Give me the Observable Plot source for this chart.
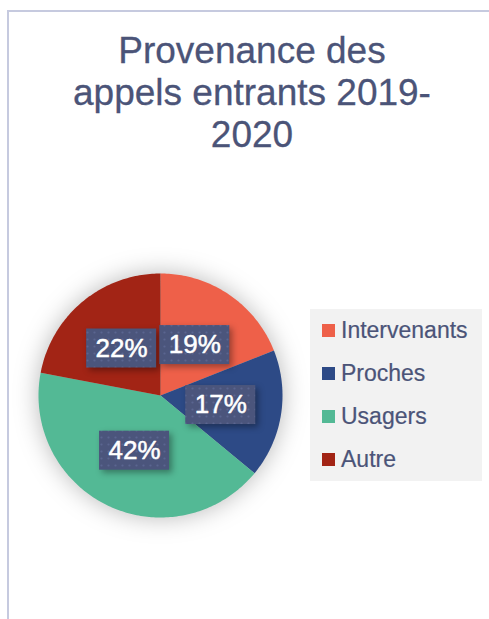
<!DOCTYPE html>
<html>
<head>
<meta charset="utf-8">
<script src="https://cdn.jsdelivr.net/npm/d3@7"></script>
<script src="https://cdn.jsdelivr.net/npm/@observablehq/plot@0.6"></script>
<style>
  html, body { margin: 0; padding: 0; background: #fff; }
  #page { position: relative; width: 489px; height: 619px; overflow: hidden; font-family: "Liberation Sans", Arial, sans-serif; }
  #border-top { position: absolute; left: 8px; top: 10px; width: 481px; height: 2px; background: #C6CADF; }
  #border-left { position: absolute; left: 7px; top: 10px; width: 2px; height: 609px; background: #C6CADF; }
  #title { position: absolute; left: 52px; width: 400px; top: 30px; text-align: center; color: #4B5478; font-size: 37px; line-height: 42px; -webkit-text-stroke: 0.3px #4B5478; }
  #chart { position: absolute; left: 0; top: 245px; }
  #legend { position: absolute; left: 310px; top: 309px; width: 172px; height: 172px; background: #F2F2F2; }
  .item { position: absolute; left: 12px; height: 24px; display: flex; align-items: center; color: #4B5478; font-size: 23px; -webkit-text-stroke: 0.2px #4B5478; }
  .sw { width: 13px; height: 13px; margin-right: 6px; }
</style>
</head>
<body>
<div id="page">
  <div id="border-top"></div>
  <div id="border-left"></div>
  <div id="title">Provenance des<br>appels entrants 2019-<br>2020</div>
  <div id="chart"></div>
  <div id="legend"></div>
</div>
<script>
const categories = ["Intervenants", "Proches", "Usagers", "Autre"];
const values = [19, 17, 42, 22];
const labels = ["19%", "17%", "42%", "22%"];
const colors = ["#EE6049", "#2D4A86", "#53B995", "#A22415"];

// slice geometry (angles clockwise from 12 o'clock), unit circle
const total = d3.sum(values);
const slices = [];
let acc = 0;
categories.forEach((c, i) => {
  const a0 = acc / total * 2 * Math.PI;
  acc += values[i];
  const a1 = acc / total * 2 * Math.PI;
  slices.push({category: c, a0, a1, label: labels[i], mid: (a0 + a1) / 2});
});
const arcPts = [];
for (const s of slices) {
  arcPts.push({category: s.category, x: 0, y: 0});
  const n = Math.max(2, Math.ceil((s.a1 - s.a0) / (Math.PI / 180)));
  for (let k = 0; k <= n; k++) {
    const a = s.a0 + (s.a1 - s.a0) * k / n;
    arcPts.push({category: s.category, x: Math.sin(a), y: Math.cos(a)});
  }
}
const R = 122; // px radius
const lr = 0.5; // label radius fraction
const bw = 35 / R, bh = 19.5 / R;
const lab = slices.map(s => ({...s, lx: lr * Math.sin(s.mid), ly: lr * Math.cos(s.mid)}));

const chart = Plot.plot({
  width: 300,
  height: 300,
  marginLeft: 38, marginRight: 18, marginTop: 28, marginBottom: 28,
  x: {domain: [-1, 1], axis: null},
  y: {domain: [-1, 1], axis: null},
  color: {domain: categories, range: colors},
  style: {background: "transparent", overflow: "visible"},
  marks: [
    Plot.line(arcPts, {x: "x", y: "y", z: "category", fill: "category", stroke: "none", curve: "linear-closed"}),
    Plot.rect(lab, {x1: d => d.lx - bw, x2: d => d.lx + bw, y1: d => d.ly - bh, y2: d => d.ly + bh, fill: "url(#dots)"}),
    Plot.text(lab, {x: "lx", y: "ly", text: "label", fill: "white", stroke: "white", strokeWidth: 0.5, fontSize: 26, fontFamily: "Liberation Sans, Arial, sans-serif"})
  ]
});
const svg = d3.select(chart);
const defs = svg.insert("defs", ":first-child");
const pat = defs.append("pattern").attr("id", "dots").attr("patternUnits", "userSpaceOnUse").attr("width", 7).attr("height", 7);
pat.append("rect").attr("width", 7).attr("height", 7).attr("fill", "#4B557C");
pat.append("circle").attr("cx", 3.5).attr("cy", 3.5).attr("r", 1.1).attr("fill", "#5A6590");
svg.select('g[aria-label="line"]').style("filter", "drop-shadow(0px 0px 12px rgba(0,0,0,0.28))");
svg.select('g[aria-label="rect"]').style("filter", "drop-shadow(3px 3px 3px rgba(0,0,0,0.35))");
document.getElementById("chart").appendChild(chart);

const legend = d3.select("#legend");
const itemY = [9, 52, 95, 138];
categories.forEach((c, i) => {
  const it = legend.append("div").attr("class", "item").style("top", itemY[i] + "px");
  it.append("div").attr("class", "sw").style("background", colors[i]);
  it.append("span").text(c);
});
</script>
</body>
</html>
